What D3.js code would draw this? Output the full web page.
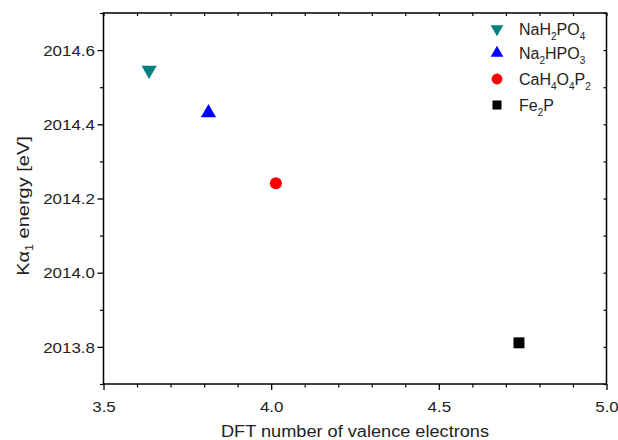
<!DOCTYPE html>
<html><head><meta charset="utf-8">
<script src="https://cdn.jsdelivr.net/npm/d3@7"></script>
<style>body{margin:0;background:#fff}svg{display:block}text{font-family:Arial,"Liberation Sans",sans-serif}</style>
</head><body><svg id="c" width="618" height="440"></svg>
<script>
const names = ["NaH2PO4","Na2HPO3","CaH4O4P2","Fe2P"];
const xValues = [3.636, 3.813, 4.014, 4.739];
const yValues = [2014.546, 2014.431, 2014.241, 2013.811];
const colors = ["#008080","#0000ff","#ff0000","#000000"];
const shapes = ["down","up","circle","square"];
const xTicks = [3.5, 4.0, 4.5, 5.0];
const yTicks = [2013.8, 2014.0, 2014.2, 2014.4, 2014.6];
const xMinor = [3.6,3.7,3.8,3.9,4.1,4.2,4.3,4.4,4.6,4.7,4.8,4.9];
const yMinor = [2013.7,2013.9,2014.1,2014.3,2014.5,2014.7];
const legendParts = [
  [["NaH",0],["2",1],["PO",0],["4",1]],
  [["Na",0],["2",1],["HPO",0],["3",1]],
  [["CaH",0],["4",1],["O",0],["4",1],["P",0],["2",1]],
  [["Fe",0],["2",1],["P",0]]
];

const svg = d3.select("#c");
const L=103.5, R=606.5, T=13, B=384;
const x = d3.scaleLinear().domain([3.5,5.0]).range([L,R]);
const y = d3.scaleLinear().domain([2013.7,2014.7]).range([B,T]);
const SX = 1.13;

function sym(s, size){
  const map={down:d3.symbolTriangle,up:d3.symbolTriangle,circle:d3.symbolCircle,square:d3.symbolSquare};
  return d3.symbol().type(map[s]).size(size)();
}
const plotSize = {down:100,up:100,circle:115,square:120};
const legSize = {down:70,up:70,circle:92,square:82};

svg.append("rect").attr("x",L).attr("y",T).attr("width",R-L).attr("height",B-T)
  .attr("fill","none").attr("stroke","#000").attr("stroke-width",1.5);

// bottom axis
const gx = svg.append("g").attr("transform",`translate(0,${B})`)
  .call(d3.axisBottom(x).tickValues(xTicks).tickFormat(d3.format(".1f")).tickSize(6).tickPadding(4));
gx.select(".domain").remove();
gx.selectAll(".tick line").attr("stroke","#000").attr("stroke-width",1.3);
gx.selectAll("text").attr("font-size",15).attr("fill","#222").attr("y",null).attr("dy",null)
  .attr("transform",`translate(0,28) scale(${SX},1)`);
svg.append("g").attr("transform",`translate(0,${B})`)
  .call(d3.axisBottom(x).tickValues(xMinor).tickSize(3.5).tickFormat(""))
  .call(g=>{g.select(".domain").remove();g.selectAll("line").attr("stroke-width",1.2);});
svg.append("g").attr("transform",`translate(0,${T})`)
  .call(d3.axisBottom(x).tickValues(xTicks.concat(xMinor)).tickSize(3).tickFormat(""))
  .call(g=>{g.select(".domain").remove();g.selectAll("line").attr("stroke-width",1.2);});

// left axis
const gy = svg.append("g").attr("transform",`translate(${L},0)`)
  .call(d3.axisLeft(y).tickValues(yTicks).tickFormat(d3.format(".1f")).tickSize(6).tickPadding(4));
gy.select(".domain").remove();
gy.selectAll(".tick line").attr("stroke","#000").attr("stroke-width",1.3);
gy.selectAll("text").attr("font-size",15).attr("fill","#222").attr("x",null).attr("dy","0.35em")
  .attr("transform",`translate(-8.5,0) scale(${SX},1)`);
svg.append("g").attr("transform",`translate(${L},0)`)
  .call(d3.axisLeft(y).tickValues(yMinor).tickSize(3.5).tickFormat(""))
  .call(g=>{g.select(".domain").remove();g.selectAll("line").attr("stroke-width",1.2);});
svg.append("g").attr("transform",`translate(${R},0)`)
  .call(d3.axisLeft(y).tickValues(yTicks.concat(yMinor)).tickSize(3).tickFormat(""))
  .call(g=>{g.select(".domain").remove();g.selectAll("line").attr("stroke-width",1.2);});

// axis titles
svg.append("text").attr("x",(L+R)/2).attr("y",437).attr("text-anchor","middle")
  .attr("font-size",16).attr("fill","#222")
  .attr("textLength",268).attr("lengthAdjust","spacingAndGlyphs")
  .text("DFT number of valence electrons");
const yt = svg.append("text").attr("transform",`translate(29,206) rotate(-90) scale(1.25,1)`)
  .attr("text-anchor","middle").attr("font-size",16).attr("fill","#222");
yt.append("tspan").text("K\u03b1");
yt.append("tspan").attr("font-size",10).attr("dy",4).text("1");
yt.append("tspan").attr("dy",-4).text(" energy [eV]");

// points
svg.append("g").selectAll("path").data(names).join("path")
  .attr("transform",(d,i)=>`translate(${x(xValues[i])},${y(yValues[i])})${shapes[i]==="down"?" rotate(180)":""}`)
  .attr("d",(d,i)=>sym(shapes[i], plotSize[shapes[i]]))
  .attr("fill",(d,i)=>colors[i]);

// legend
const legY = [29, 53, 79, 105];
const lg = svg.append("g");
names.forEach((n,i)=>{
  lg.append("path").attr("transform",`translate(497,${legY[i]})${shapes[i]==="down"?" rotate(180)":""}`)
    .attr("d",sym(shapes[i], legSize[shapes[i]])).attr("fill",colors[i]);
  const t = lg.append("text").attr("x",519).attr("y",legY[i]+6).attr("font-size",16).attr("fill","#222");
  let prevSub=0;
  legendParts[i].forEach(([s,sub])=>{
    const dy = sub && !prevSub ? 5 : (!sub && prevSub ? -5 : 0);
    t.append("tspan").attr("dy",dy).attr("font-size",sub?10:16).text(s);
    prevSub=sub;
  });
});
</script></body></html>
